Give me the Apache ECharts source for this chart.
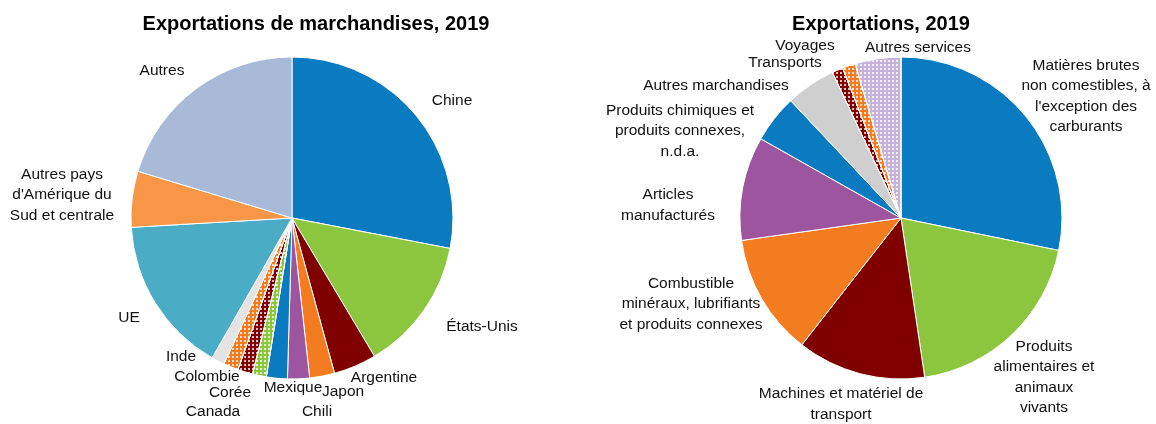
<!DOCTYPE html>
<html>
<head>
<meta charset="utf-8">
<script src="https://cdn.jsdelivr.net/npm/echarts@6/dist/echarts.min.js"></script>
<style>
  html, body { margin: 0; padding: 0; background: #fff; }
  #chart { width: 1156px; height: 424px; }
</style>
</head>
<body>
<div id="chart"></div>
<script>
// Merchandise exports by destination, 2019 (% of total), clockwise from 12 o'clock
const destCategories = [
  'Chine', 'États-Unis', 'Argentine', 'Japon', 'Chili', 'Mexique', 'Canada',
  'Corée', 'Colombie', 'Inde', 'UE', "Autres pays\nd'Amérique du\nSud et centrale", 'Autres'
];
const destValues = [28.0, 13.4, 4.3, 2.5, 2.2, 2.1, 1.4, 1.5, 1.5, 1.3, 15.8, 5.6, 20.3];

// Exports by product / service, 2019 (% of total)
const productCategories = [
  "Matières brutes\nnon comestibles, à\nl'exception des\ncarburants",
  'Produits\nalimentaires et\nanimaux\nvivants',
  'Machines et matériel de\ntransport',
  'Combustible\nminéraux, lubrifiants\net produits connexes',
  'Articles\nmanufacturés',
  'Produits chimiques et\nproduits connexes,\nn.d.a.',
  'Autres marchandises',
  'Transports',
  'Voyages',
  'Autres services'
];
const productValues = [28.2, 19.4, 12.9, 12.2, 10.4, 4.8, 5.0, 1.1, 1.3, 4.6];

const FONT = "'Liberation Sans', Arial, sans-serif";

// slice colours; patterned slices get a white dotted decal
const dots = {
  symbol: 'rect', symbolSize: 1, color: 'rgba(255,255,255,0.75)',
  dashArrayX: [1.5, 1.5], dashArrayY: [1.5, 1.5], rotation: 0
};
const destStyles = [
  { color: '#0B7BC1' }, { color: '#8CC63F' }, { color: '#800000' }, { color: '#F47C20' },
  { color: '#9E55A0' }, { color: '#0B7BC1' }, { color: '#8CC63F', decal: dots },
  { color: '#800000', decal: dots }, { color: '#F47C20', decal: dots }, { color: '#E3E3E3' },
  { color: '#4BACC6' }, { color: '#F79646' }, { color: '#A9B9D8' }
];
const productStyles = [
  { color: '#0B7BC1' }, { color: '#8CC63F' }, { color: '#800000' }, { color: '#F47C20' },
  { color: '#9E55A0' }, { color: '#0B7BC1' }, { color: '#CFCFCF' },
  { color: '#800000', decal: dots }, { color: '#F47C20', decal: dots },
  { color: '#C5B3DC', decal: dots }
];

// pie geometry
const pies = [
  { center: [292, 218], radius: 161 },
  { center: [901, 218], radius: 161 }
];
// label centres, relative to each pie centre
const labelOffsets = [
  [[160, -117], [190, 109], [92, 160], [51, 174], [25, 194], [1, 170], [-79, 194],
   [-62, 175], [-85, 159], [-111, 139], [-163, 100], [-230, -23], [-130, -147]],
  [[185, -122], [143, 159], [-60, 186], [-210, 86], [-233, -13], [-221, -87],
   [-185, -132], [-116, -155], [-96, -172], [17, -170]]
];

function buildData(cats, vals, styles) {
  return cats.map((name, i) => ({ name: name, value: vals[i], itemStyle: styles[i] }));
}

function pieSeries(idx, cats, vals, styles) {
  const p = pies[idx];
  return {
    type: 'pie',
    center: p.center,
    radius: p.radius,
    startAngle: 90,
    clockwise: true,
    avoidLabelOverlap: false,
    silent: true,
    itemStyle: { borderColor: '#ffffff', borderWidth: 1 },
    label: {
      show: true,
      position: 'outside',
      formatter: '{b}',
      color: '#111111',
      fontFamily: FONT,
      fontSize: 15.5,
      lineHeight: 20.5
    },
    labelLine: { show: false },
    labelLayout: function (params) {
      const off = labelOffsets[idx][params.dataIndex];
      return {
        x: p.center[0] + off[0],
        y: p.center[1] + off[1],
        align: 'center',
        verticalAlign: 'middle'
      };
    },
    data: buildData(cats, vals, styles)
  };
}

const chart = echarts.init(document.getElementById('chart'), null, { renderer: 'canvas' });
chart.setOption({
  animation: false,
  backgroundColor: '#ffffff',
  title: [
    {
      text: 'Exportations de marchandises, 2019',
      left: 311, top: 9, textAlign: 'center',
      textStyle: { fontFamily: FONT, fontSize: 20, fontWeight: 'bold', color: '#000' }
    },
    {
      text: 'Exportations, 2019',
      left: 876, top: 9, textAlign: 'center',
      textStyle: { fontFamily: FONT, fontSize: 20, fontWeight: 'bold', color: '#000' }
    }
  ],
  series: [
    pieSeries(0, destCategories, destValues, destStyles),
    pieSeries(1, productCategories, productValues, productStyles)
  ]
});
</script>
</body>
</html>
